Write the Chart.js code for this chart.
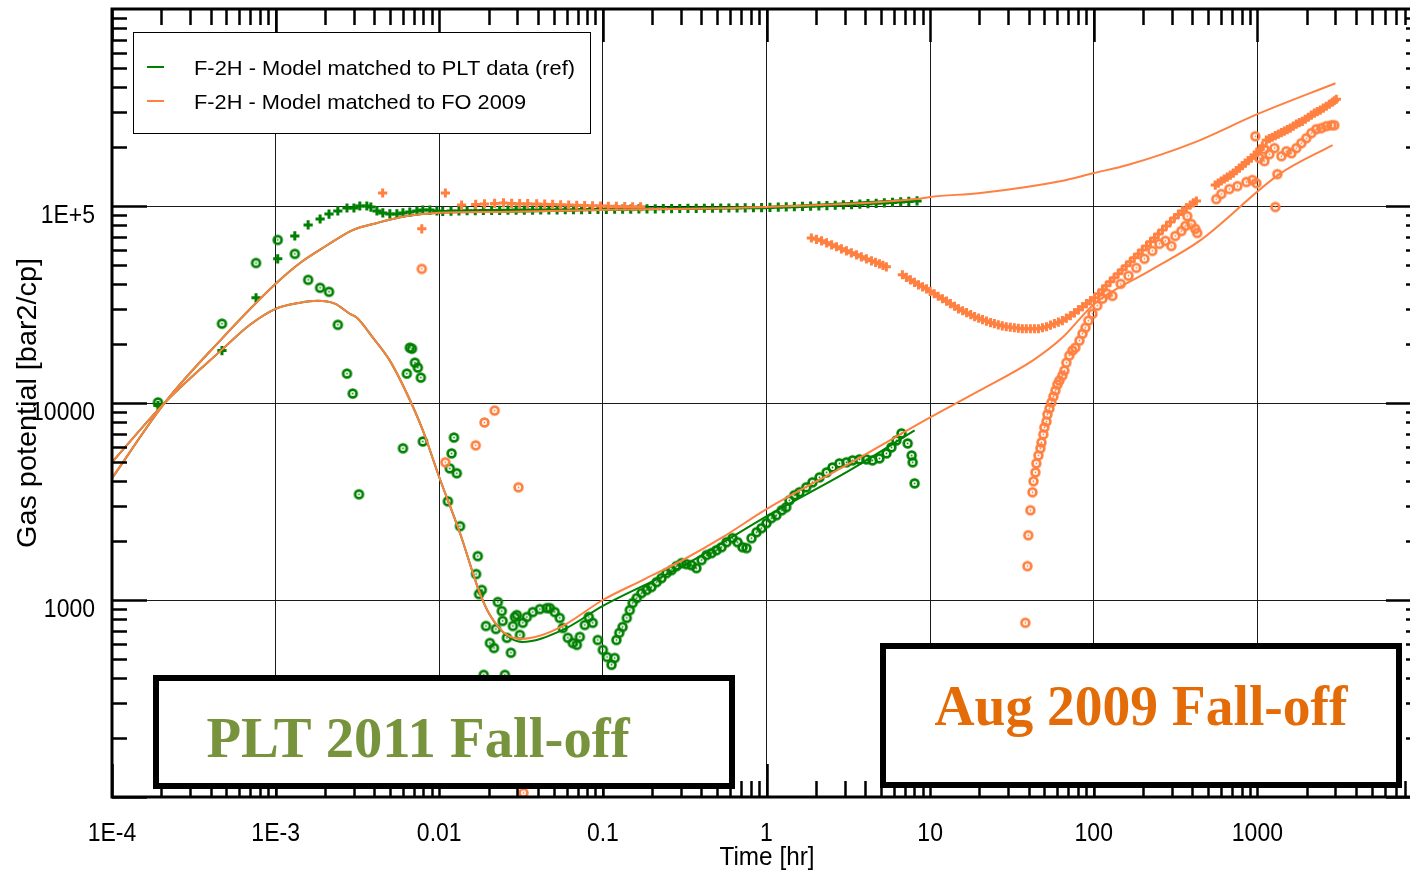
<!DOCTYPE html>
<html lang="en">
<head>
<meta charset="UTF-8">
<title>Gas potential vs time</title>
<script src="https://cdn.jsdelivr.net/npm/chart.js"></script>
<style>
  html, body { margin: 0; padding: 0; background: #fff; overflow: hidden; }
  #wrap { width: 1410px; height: 874px; overflow: hidden; }
  canvas { display: block; }
</style>
</head>
<body>
<div id="wrap"><canvas id="chart" width="1440" height="874"></canvas></div>

<script>
// axis decades and labels
const xDecades = [1e-4, 1e-3, 0.01, 0.1, 1, 10, 100, 1000, 1e4];
const xTickLabels = ['1E-4', '1E-3', '0.01', '0.1', '1', '10', '100', '1000'];
const yDecades = [100, 1000, 1e4, 1e5, 1e6];
const yTickValues = [1000, 1e4, 1e5];
const yTickLabels = ['1000', '10000', '1E+5'];

const legendLabels = ['F-2H - Model matched to PLT data (ref)', 'F-2H - Model matched to FO 2009'];
const boxTexts = ['PLT 2011 Fall-off', 'Aug 2009 Fall-off'];

// model curves [time hr, gas potential]
const pltModelPressure = [[1e-4,4150],[2.11e-4,10070],[4.7e-4,21230],[1e-3,40270],[1.41e-3,51400],[2.03e-3,62660],[2.96e-3,75500],[4.16e-3,82000],[6.34e-3,88900],[0.01,92300],[0.0234,93300],[0.0957,95500],[1,98900],[8.3,108000]];
const pltModelDeriv = [[1e-4,5000],[2.11e-4,10070],[4.7e-4,18660],[6.97e-4,24950],[1e-3,30060],[1.41e-3,32290],[1.81e-3,33040],[2.3e-3,31920],[2.84e-3,28380],[3.14e-3,27100],[3.93e-3,21480],[4.99e-3,16410],[6.34e-3,11170],[7.94e-3,7260],[0.01,4200],[0.0134,2183],[0.0177,1084],[0.0204,839],[0.0259,660],[0.032,612],[0.0569,705],[0.1,933],[0.308,1486],[1,2661],[3.22,4550],[8.04,7260]];
const foModelPressure = [[1e-4,4150],[2.11e-4,10070],[4.7e-4,21230],[1e-3,40270],[1.41e-3,51400],[2.03e-3,62660],[2.96e-3,75500],[4.16e-3,82000],[6.34e-3,88900],[0.01,92300],[0.0234,93300],[0.0957,95500],[1,98900],[8.28,108400],[10,111200],[20.3,116400],[63.5,134000],[100,146900],[161,161400],[402,208400],[1000,292400],[3000,419800]];
const foModelDeriv = [[1e-4,5000],[2.11e-4,10070],[4.7e-4,18660],[6.97e-4,24950],[1e-3,30060],[1.41e-3,32290],[1.81e-3,33040],[2.3e-3,31920],[2.84e-3,28380],[3.14e-3,27100],[3.93e-3,21480],[4.99e-3,16410],[6.34e-3,11170],[7.94e-3,7260],[0.01,4200],[0.0134,2183],[0.0177,1084],[0.0204,839],[0.0259,665],[0.032,635],[0.0412,658],[0.0569,738],[0.1,1000],[0.175,1262],[0.308,1596],[0.54,2084],[1,2891],[3.22,4943],[10,8453],[20,11560],[42.3,16410],[64.4,21480],[101,31920],[219,46880],[443,66530],[1365,145200],[2880,203700]];

// PLT 2011 measured pressure (crosses)
const pltPressure = [[1.91e-4,9700],[4.7e-4,18450],[7.59e-4,34200],[1.03e-3,53950],[1.31e-3,70470],[1.58e-3,80170],[1.87e-3,85900],[2.12e-3,91000],[2.4e-3,94400],[2.73e-3,97700],[3.01e-3,97700],[3.27e-3,100000],[3.61e-3,100000],[3.82e-3,98800],[4.16e-3,94400],[4.52e-3,92200],[4.99e-3,91100],[5.51e-3,91100],[6e-3,92200],[6.61e-3,93200],[7.3e-3,94300],[7.94e-3,95400],[8.77e-3,95400],[9.67e-3,94300],
  [0.0105,93900],[0.0118,94200],[0.0132,94400],[0.0148,94600],[0.0166,94700],[0.0186,94900],[0.0209,95000],[0.0234,95100],[0.0263,95200],[0.0295,95300],[0.0331,95400],[0.0372,95400],[0.0417,95500],[0.0468,95600],[0.0525,95600],[0.0589,95700],[0.0661,95800],[0.0741,95900],[0.0832,96000],[0.0933,96100],
  [0.105,96200],[0.118,96300],[0.132,96400],[0.148,96500],[0.166,96600],[0.186,96700],[0.209,96800],[0.234,96900],[0.263,97000],[0.295,97100],[0.331,97200],[0.372,97300],[0.417,97400],[0.468,97500],[0.525,97600],[0.589,97700],[0.661,97800],[0.741,97900],[0.832,98000],[0.933,98100],
  [1.05,98300],[1.18,98600],[1.32,98900],[1.48,99200],[1.66,99500],[1.86,99800],[2.09,100100],[2.34,100500],[2.63,100900],[2.95,101300],[3.31,101700],[3.72,102200],[4.17,102700],[4.68,103200],[5.25,103700],[5.89,104300],[6.61,104900],[7.41,105500],[8.32,106100]];

// PLT 2011 measured derivative (circles)
const pltDeriv = [[1.91e-4,10070],[4.7e-4,25270],[7.59e-4,51400],[1.03e-3,67300],[1.31e-3,57150],[1.58e-3,42200],[1.87e-3,38460],[2.12e-3,36700],[2.4e-3,24950],[2.73e-3,14100],[2.96e-3,11170],[3.23e-3,3440],
  [6e-3,5890],[6.34e-3,14100],[6.61e-3,19100],[6.81e-3,18880],[7.1e-3,16030],[7.4e-3,15130],[7.72e-3,13460],[7.94e-3,6380],
  [0.0113,3170],[0.0116,4660],[0.0119,5550],[0.0123,6680],[0.0128,4400],[0.0134,2370],[0.0168,1355],[0.0172,1671],[0.0175,1072],[0.0182,1125],[0.0187,417],[0.0193,738],[0.0204,605],[0.0216,571],[0.0222,713],[0.0228,977],[0.0241,879],[0.0244,783],[0.0252,417],[0.0259,643],[0.0274,540],[0.0282,738],[0.029,820],[0.0298,839],[0.0311,665],[0.0324,766],[0.0343,820],[0.0373,869],[0.0412,899],[0.0454,910],[0.0474,910],[0.0508,869],[0.0545,811],[0.0569,721],[0.0611,643],[0.0655,605],[0.0693,592],[0.0723,650],[0.0775,747],[0.082,820],[0.0867,766],[0.0931,627],[0.1,558],[0.106,514],[0.113,469],[0.118,508],
  [0.121,627],[0.126,681],[0.132,730],[0.14,811],[0.146,889],[0.152,966],[0.161,1023],[0.172,1084],[0.185,1124],[0.198,1164],[0.213,1233],[0.228,1292],[0.245,1370],[0.263,1419],[0.282,1486],[0.303,1539],[0.324,1521],[0.348,1503],[0.373,1452],[0.401,1596],[0.43,1691],[0.461,1730],[0.495,1791],[0.531,1854],[0.57,1966],[0.62,2060],[0.665,1966],[0.713,1854],[0.755,1834],[0.81,2060],[0.869,2208],[0.932,2315],
  [1,2455],[1.07,2602],[1.15,2693],[1.24,2855],[1.32,2958],[1.38,3207],[1.48,3402],[1.59,3524],[1.75,3735],[1.91,3958],[2.11,4196],[2.33,4446],[2.53,4711],[2.79,4940],[3.08,5000],[3.36,5117],[3.7,5177],[4.08,5177],[4.44,5117],[4.9,5236],[5.41,5550],[5.8,5957],[6.22,6457],[6.68,7015],[7.29,6237],[7.71,5420],[7.82,5000],[8.04,3910]];

// Aug 2009 fall-off measured pressure (crosses)
const foPressure = [[4.51e-3,116400],[7.82e-3,76600],[0.0109,116400],[0.0137,101200],[0.0167,101800],[0.0189,102400],[0.0218,103000],[0.0247,103600],[0.0277,103000],[0.031,102700],[0.0347,102700],[0.0394,102400],[0.0441,102100],[0.0493,101800],[0.0552,101500],[0.0618,101200],[0.0692,100900],[0.0774,100600],[0.0865,100300],[0.0968,100000],[0.108,99700],[0.121,99500],[0.136,99300],[0.152,99100],[0.17,99000],
  [1.88,68800],[2.02,67700],[2.17,66530],[2.33,65000],[2.5,63550],[2.68,62100],[2.87,60600],[3.08,59200],[3.3,57850],[3.55,56500],[3.8,55200],[4.08,53900],[4.38,52700],[4.64,51800],[4.9,50850],[5.15,50000],[5.4,49100],
  [6.77,44770],[7.16,43470],[7.58,42200],[8.02,41000],[8.49,39800],[8.99,38900],[9.51,38000],[10,36900],[10.6,35850],[11.2,34830],[11.9,33830],[12.6,32860],[13.3,31920],[14.1,30990],[14.9,30080],[15.8,29400],[16.7,28730],[17.7,28070],[18.7,27420],[19.8,26950],[20.9,26490],[22.1,26040],[23.4,25590],[24.7,25270],[26.1,24950],[27.6,24660],[29.2,24380],[30.9,24240],[32.7,24100],[34.6,23960],[36.6,23820],[38.7,23820],[41,23820],[43.4,23820],[45.9,23820],[48.6,24100],[51.4,24380],[54.4,24820],[57.5,25270],[60.8,25720],[64.3,26180],[68,26940],[72,27730],[76.2,28700],[80.6,29720],[85.3,30800],[90.2,31920],[95.4,33040],[101,34200],[107,35850],[113,37580],[119,39350],[126,41210],[133,43200],[141,45290],[149,47440],[158,49700],[167,52070],[177,54550],[187,57130],[198,59840],[210,62730],[222,65770],[235,68860],[248,72100],[263,75590],[278,79250],[294,82990],[311,86900],[329,90570],[348,94400],[368,97740],[389,101200],[406,103600],[424,106000],
  [553,127700],[577,130800],[602,133900],[628,137100],[655,140300],[684,143600],[713,146900],[744,151200],[776,155600],[809,160300],[844,165200],[880,170000],[918,175000],[958,181200],[1000,187600],[1035,194300],[1072,201300],
  [1135,215800],[1184,219600],[1234,223400],[1288,227500],[1343,231700],[1402,235800],[1462,239900],[1524,244200],[1589,248600],[1658,254400],[1730,260300],[1805,264700],[1883,269200],[1964,275700],[2048,282200],[2136,289000],[2228,295800],[2324,301100],[2424,306400],[2529,313600],[2637,320900],[2751,328500],[2871,336200],[2952,342200],[3036,348300]];

// Aug 2009 fall-off measured derivative (circles)
const foDeriv = [[7.82e-3,47970],[0.0109,5000],[0.0167,6095],[0.0189,7965],[0.0218,9160],[0.0305,3735],[0.0327,105],
  [38.2,766],[39.3,1486],[39.8,2133],[41,2855],[42.2,3524],[42.8,4008],[44,4446],[44.6,4940],[45.9,5420],[47.2,5890],[47.9,6310],[49.2,6934],[49.9,7520],[51.4,8053],[52.1,8750],[53.6,9376],[55.1,10070],[56.7,10790],[58.3,11560],[59.9,12410],[61.6,13000],[64.3,13780],[66.1,14620],[68,16030],[70.9,17400],[74,18450],[77.2,19100],[81.7,20720],[85.3,22480],[88.9,24100],[92.7,26180],[98.2,28380],[105,31190],[113,33830],[121,35850],[130,34990],[146,40270],[163,44260],[182,48530],[204,53950],[228,59200],[252,64240],[274,66530],[298,62660],[315,70470],[343,74640],[363,79250],[373,88900],[394,81100],[417,76600],[429,72980],
  [561,108400],[602,115100],[674,121900],[755,126200],[857,132400],[932,135600],[986,130700],[972,225900],[1028,175000],[1104,169000],[1104,194500],[1185,183300],[1271,196800],[1325,145200],[1288,98840],[1403,179100],[1503,189700],[1614,185300],[1730,196800],[1857,208400],[1991,220800],[2138,234400],[2291,245500],[2460,248600],[2637,254300],[2831,257000],[2951,257000]];

const GREEN = '#008000';
const ORANGE = '#FF8040';

function ringMarker(color) {
    const c = document.createElement('canvas');
    c.width = 13; c.height = 13;
    const g = c.getContext('2d');
    g.strokeStyle = color;
    g.lineWidth = 2.7;
    g.beginPath(); g.arc(6.5, 6.5, 3.9, 0, Math.PI * 2); g.stroke();
    g.fillStyle = color;
    g.beginPath(); g.arc(6.5, 6.5, 0.9, 0, Math.PI * 2); g.fill();
    return c;
}

function toXY(pts) { return pts.map(p => ({ x: p[0], y: p[1] })); }

function lineSet(label, pts, color, order) {
    return { label, data: toXY(pts), showLine: true, borderColor: color, borderWidth: 2,
             pointRadius: 0, cubicInterpolationMode: 'monotone', fill: false, order };
}
function crossSet(label, pts, color, order) {
    return { label, data: toXY(pts), showLine: false, pointStyle: 'cross', pointRadius: 4.6,
             borderColor: color, pointBorderWidth: 3, order };
}
function ringSet(label, pts, color, order) {
    return { label, data: toXY(pts), showLine: false, pointStyle: ringMarker(color), pointRadius: 4, order };
}

// draw text squeezed/stretched to a given width
function fitText(ctx, text, x, y, font, width, align, color) {
    ctx.save();
    ctx.font = font;
    const k = width / ctx.measureText(text).width;
    ctx.translate(x, y);
    ctx.scale(k, 1);
    ctx.textAlign = align;
    ctx.fillStyle = color;
    ctx.fillText(text, 0, 0);
    ctx.restore();
}

const SANS = '"Liberation Sans", Arial, sans-serif';
const SERIF = '"Liberation Serif", "Times New Roman", serif';

const framePlugin = {
    id: 'frame',
    afterDatasetsDraw(chart) {
        const { ctx, chartArea: a, scales: { x, y } } = chart;
        ctx.save();
        ctx.strokeStyle = '#000';

        // inner ticks on all four sides
        ctx.lineWidth = 2.5;
        ctx.beginPath();
        for (let e = -4; e < 4; e++) {
            for (let m = 1; m <= 9; m++) {
                const px = Math.round(x.getPixelForValue(m * Math.pow(10, e))) + 0.5;
                const len = m === 1 ? 33 : 16;
                ctx.moveTo(px, a.top); ctx.lineTo(px, a.top + len);
                ctx.moveTo(px, a.bottom); ctx.lineTo(px, a.bottom - len);
            }
        }
        for (let e = 2; e < 6; e++) {
            for (let m = 1; m <= 9; m++) {
                const py = Math.round(y.getPixelForValue(m * Math.pow(10, e))) + 0.5;
                const len = m === 1 ? 35 : 15;
                ctx.moveTo(a.left, py); ctx.lineTo(a.left + len, py);
                ctx.moveTo(a.right, py); ctx.lineTo(a.right - len, py);
            }
        }
        ctx.stroke();

        ctx.lineWidth = 3;
        ctx.strokeRect(a.left, a.top, a.right - a.left, a.bottom - a.top);

        // legend
        ctx.fillStyle = '#fff';
        ctx.fillRect(133, 32, 458, 102);
        ctx.lineWidth = 1;
        ctx.strokeRect(133.5, 32.5, 457, 101);
        const legColors = [GREEN, ORANGE];
        const legY = [67, 101];
        const legW = [381, 332];
        legendLabels.forEach((t, i) => {
            ctx.strokeStyle = legColors[i];
            ctx.lineWidth = 2;
            ctx.beginPath(); ctx.moveTo(147, legY[i]); ctx.lineTo(164, legY[i]); ctx.stroke();
            fitText(ctx, t, 194, legY[i] + 8, '21px ' + SANS, legW[i], 'left', '#000');
        });

        // annotation boxes
        const boxes = [
            { l: 156, t: 678, r: 732, b: 786, cx: 418, base: 757, w: 423, color: '#77933C' },
            { l: 883, t: 646, r: 1399, b: 785, cx: 1141, base: 725, w: 413, color: '#E36C09' }
        ];
        boxes.forEach((bx, i) => {
            ctx.fillStyle = '#fff';
            ctx.fillRect(bx.l, bx.t, bx.r - bx.l, bx.b - bx.t);
            ctx.strokeStyle = '#000';
            ctx.lineWidth = 6;
            ctx.strokeRect(bx.l, bx.t, bx.r - bx.l, bx.b - bx.t);
            fitText(ctx, boxTexts[i], bx.cx, bx.base, 'bold 56px ' + SERIF, bx.w, 'center', bx.color);
        });
        ctx.restore();
    },
    afterDraw(chart) {
        const { ctx, scales: { x, y } } = chart;
        const font = '25px ' + SANS;
        xTickLabels.forEach((t, i) => {
            ctx.save();
            ctx.font = font;
            const w = ctx.measureText(t).width * 0.92;
            ctx.restore();
            fitText(ctx, t, x.getPixelForValue(xDecades[i]), 841, font, w, 'center', '#000');
        });
        yTickLabels.forEach((t, i) => {
            ctx.save();
            ctx.font = font;
            const w = ctx.measureText(t).width * 0.92;
            ctx.restore();
            fitText(ctx, t, 95, y.getPixelForValue(yTickValues[i]) + 17, font, w, 'right', '#000');
        });
        fitText(ctx, 'Time [hr]', 767, 865, font, 95, 'center', '#000');
        ctx.save();
        ctx.translate(28, 403);
        ctx.rotate(-Math.PI / 2);
        ctx.textBaseline = 'middle';
        fitText(ctx, 'Gas potential [bar2/cp]', 0, 0, '28px ' + SANS, 290, 'center', '#000');
        ctx.restore();
    }
};

const ctx = document.getElementById('chart').getContext('2d');
new Chart(ctx, {
    type: 'scatter',
    data: {
        datasets: [
            lineSet(legendLabels[1] + ' p', foModelPressure, ORANGE, 0),
            lineSet(legendLabels[1] + ' dp', foModelDeriv, ORANGE, 0),
            lineSet(legendLabels[0] + ' p', pltModelPressure, GREEN, 1),
            lineSet(legendLabels[0] + ' dp', pltModelDeriv, GREEN, 1),
            ringSet('FO 2009 derivative', foDeriv, ORANGE, 2),
            crossSet('FO 2009 pressure', foPressure, ORANGE, 3),
            ringSet('PLT derivative', pltDeriv, GREEN, 4),
            crossSet('PLT pressure', pltPressure, GREEN, 5)
        ]
    },
    options: {
        responsive: false,
        animation: false,
        events: [],
        layout: { padding: { top: 9, right: 19, bottom: 0, left: 0 } },
        plugins: { legend: { display: false }, tooltip: { enabled: false } },
        scales: {
            x: {
                type: 'logarithmic', min: 1e-4, max: 1e4,
                afterBuildTicks: s => { s.ticks = xDecades.map(v => ({ value: v })); },
                afterFit: s => { s.height = 77; },
                ticks: { display: false },
                grid: { color: '#1a1a1a', lineWidth: 1, drawTicks: false },
                border: { display: false }
            },
            y: {
                type: 'logarithmic', min: 100, max: 1e6,
                afterBuildTicks: s => { s.ticks = yDecades.map(v => ({ value: v })); },
                afterFit: s => { s.width = 112; },
                ticks: { display: false },
                grid: { color: '#1a1a1a', lineWidth: 1, drawTicks: false },
                border: { display: false }
            }
        }
    },
    plugins: [framePlugin]
});
</script>
</body>
</html>
